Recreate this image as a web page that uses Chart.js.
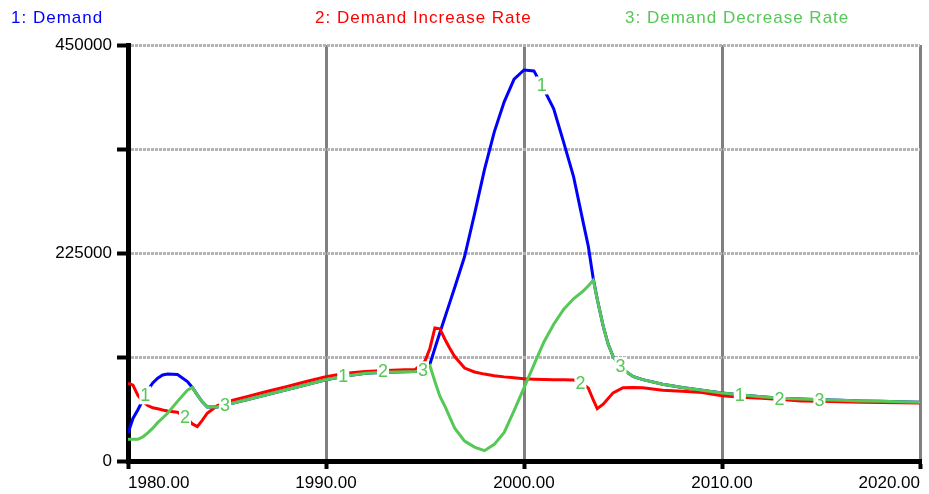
<!DOCTYPE html>
<html>
<head>
<meta charset="utf-8">
<script src="https://cdn.jsdelivr.net/npm/chart.js@4.4.1/dist/chart.umd.min.js"></script>
<style>
  html, body { margin: 0; padding: 0; background: #fff; }
  #wrap { width: 929px; height: 494px; position: relative; }
</style>
</head>
<body>
<div id="wrap"><canvas id="demandChart"></canvas></div>
<script>
// data
const years = [1980, 1980.25, 1980.5, 1980.75, 1981, 1981.25, 1981.5, 1981.75, 1982, 1982.5,
  1983, 1983.25, 1983.5, 1983.75, 1984, 1984.5, 1985, 1986, 1987, 1988,
  1989, 1990, 1991, 1992, 1993, 1994, 1994.5, 1995, 1995.25, 1995.5,
  1995.75, 1996, 1996.25, 1996.5, 1997, 1997.5, 1998, 1998.5, 1999, 1999.5,
  2000, 2000.5, 2001, 2001.5, 2002, 2002.5, 2003, 2003.25, 2003.5, 2003.7,
  2004, 2004.25, 2004.5, 2005, 2005.5, 2006, 2007, 2008, 2009, 2010,
  2011, 2012, 2013, 2014, 2015, 2016, 2017, 2018, 2019, 2020];

const demand = [30000, 46000, 55500, 66000, 76500, 84500, 89500, 93000, 94000, 93500,
  86000, 79500, 71500, 64000, 58500, 58500, 61000, 66300, 71700, 77100,
  82500, 87900, 92000, 94800, 96000, 96500, 96800, 98500, 105000, 122000,
  138800, 155000, 171300, 187600, 221200, 267000, 315000, 356000, 388500, 413000,
  423000, 422000, 402300, 381000, 345000, 308000, 257000, 232000, 197000, 175000,
  146000, 126500, 113000, 99000, 91500, 88000, 83000, 79500, 76500, 73500,
  71500, 69500, 68000, 67000, 66300, 65600, 65000, 64500, 64000, 63500];

const increaseRate = [84200, 82000, 71000, 64500, 60000, 57500, 56500, 55200, 54200, 52800,
  46000, 40100, 37200, 44000, 51700, 59600, 64200, 69600, 75100, 80500,
  86000, 91300, 95000, 96800, 98000, 98700, 98700, 108000, 122000, 144000,
  143000, 132000, 122000, 113000, 100500, 96300, 94000, 92300, 91000, 90000,
  89000, 88500, 88200, 88000, 87900, 87700, 83000, 78800, 66000, 56500,
  61500, 67500, 73700, 79200, 79500, 79300, 76500, 75500, 74000, 70500,
  69000, 68000, 66500, 65000, 64500, 64000, 63500, 63300, 63000, 62800];

const decreaseRate = [23500, 23500, 23500, 26000, 30500, 35500, 41500, 46500, 51700, 64500,
  76500, 79500, 71500, 64000, 58500, 58500, 61000, 66300, 71700, 77100,
  82500, 87900, 92000, 94800, 96000, 96500, 96800, 98500, 103000, 86000,
  70000, 59500, 47500, 35500, 21500, 15000, 11200, 18000, 31000, 54500,
  79000, 104000, 128500, 148000, 164000, 175500, 184000, 189500, 195500, 175000,
  146000, 126500, 113000, 99000, 91500, 88000, 83000, 79500, 76500, 73500,
  71500, 69500, 68000, 67000, 66300, 65600, 65000, 64500, 64000, 63500];

const seriesNames = ['1: Demand', '2: Demand Increase Rate', '3: Demand Decrease Rate'];
const seriesColors = ['#0000ff', '#ff0000', '#55c855'];

// years where the little line numbers sit
const labelYears = [
  [1980.87, 1990.87, 2000.9, 2010.9],
  [1982.88, 1992.88, 2002.85, 2012.9],
  [1984.9, 1994.9, 2004.87, 2014.92]
];

const xTicks = [1980, 1990, 2000, 2010, 2020];
const yTicks = [0, 112500, 225000, 337500, 450000];
const yLabels = ['0', '', '225000', '', '450000'];

const FONT = "'Liberation Sans', Arial, sans-serif";

function toPoints(values) {
  return values.map((v, i) => ({ x: years[i], y: v }));
}

// value of a series at a year (for placing the number labels)
function valueAt(values, year) {
  for (let i = 0; i < years.length - 1; i++) {
    if (year >= years[i] && year <= years[i + 1]) {
      const t = (year - years[i]) / (years[i + 1] - years[i]);
      return values[i] + t * (values[i + 1] - values[i]);
    }
  }
  return values[values.length - 1];
}

// header with the three series names
const headerPlugin = {
  id: 'header',
  afterDraw(chart) {
    const ctx = chart.ctx;
    const xs = [11, 315, 625];
    ctx.save();
    ctx.font = '17px ' + FONT;
    ctx.letterSpacing = '1px';
    ctx.textBaseline = 'alphabetic';
    ctx.textAlign = 'left';
    seriesNames.forEach((name, i) => {
      ctx.fillStyle = seriesColors[i];
      ctx.fillText(name, xs[i], 23);
    });
    ctx.restore();
  }
};

// numbers 1 2 3 drawn on the lines
const lineNumberPlugin = {
  id: 'lineNumbers',
  afterDatasetsDraw(chart) {
    const ctx = chart.ctx;
    const xs = chart.scales.x;
    const ys = chart.scales.y;
    const allValues = [demand, increaseRate, decreaseRate];
    ctx.save();
    ctx.font = '18px ' + FONT;
    ctx.textAlign = 'center';
    ctx.textBaseline = 'middle';
    labelYears.forEach((list, s) => {
      list.forEach(yr => {
        const px = xs.getPixelForValue(yr);
        const py = ys.getPixelForValue(valueAt(allValues[s], yr));
        ctx.fillStyle = '#ffffff';
        ctx.fillRect(px - 6, py - 9, 12, 18);
        ctx.fillStyle = seriesColors[2];
        ctx.fillText(String(s + 1), px, py + 1);
      });
    });
    ctx.restore();
  }
};

const config = {
  type: 'line',
  data: {
    datasets: [
      { label: seriesNames[0], data: toPoints(demand), borderColor: seriesColors[0], order: 3 },
      { label: seriesNames[1], data: toPoints(increaseRate), borderColor: seriesColors[1], order: 2 },
      { label: seriesNames[2], data: toPoints(decreaseRate), borderColor: seriesColors[2], order: 1 }
    ]
  },
  options: {
    responsive: true,
    maintainAspectRatio: false,
    animation: false,
    parsing: false,
    elements: {
      line: { borderWidth: 3, tension: 0, fill: false },
      point: { radius: 0, hoverRadius: 0 }
    },
    layout: { padding: { top: 45, right: 9, left: 0, bottom: 0 } },
    plugins: {
      legend: { display: false },
      tooltip: { enabled: false }
    },
    scales: {
      x: {
        type: 'linear',
        min: 1980,
        max: 2020,
        afterBuildTicks: scale => { scale.ticks = xTicks.map(v => ({ value: v })); },
        afterFit: scale => { scale.height = 33; },
        ticks: {
          color: '#000',
          font: { family: FONT, size: 17 },
          padding: 4,
          maxRotation: 0,
          autoSkip: false,
          align: 'inner',
          callback: v => v.toFixed(2)
        },
        grid: {
          color: c => (c.tick && c.tick.value === 1980) ? 'rgba(0,0,0,0)' : '#808080',
          lineWidth: 3,
          tickColor: '#000',
          tickWidth: 4,
          tickLength: 8
        },
        border: { color: '#000', width: 5 }
      },
      y: {
        min: 0,
        max: 450000,
        afterBuildTicks: scale => { scale.ticks = yTicks.map(v => ({ value: v })); },
        afterFit: scale => { scale.width = 128; },
        ticks: {
          color: '#000',
          font: { family: FONT, size: 17 },
          padding: 5,
          autoSkip: false,
          callback: (v, i) => yLabels[i]
        },
        grid: {
          color: c => (c.tick && c.tick.value === 0) ? 'rgba(0,0,0,0)' : '#b4b4b4',
          lineWidth: 3,
          tickColor: '#000',
          tickWidth: 4,
          tickLength: 11
        },
        border: { color: '#000', width: 5, dash: [3, 1] }
      }
    }
  },
  plugins: [headerPlugin, lineNumberPlugin]
};

function createDemandChart() {
  const canvas = document.getElementById('demandChart');
  if (canvas) {
    new Chart(canvas, config);
  }
}

window.addEventListener('load', createDemandChart);
</script>
</body>
</html>
